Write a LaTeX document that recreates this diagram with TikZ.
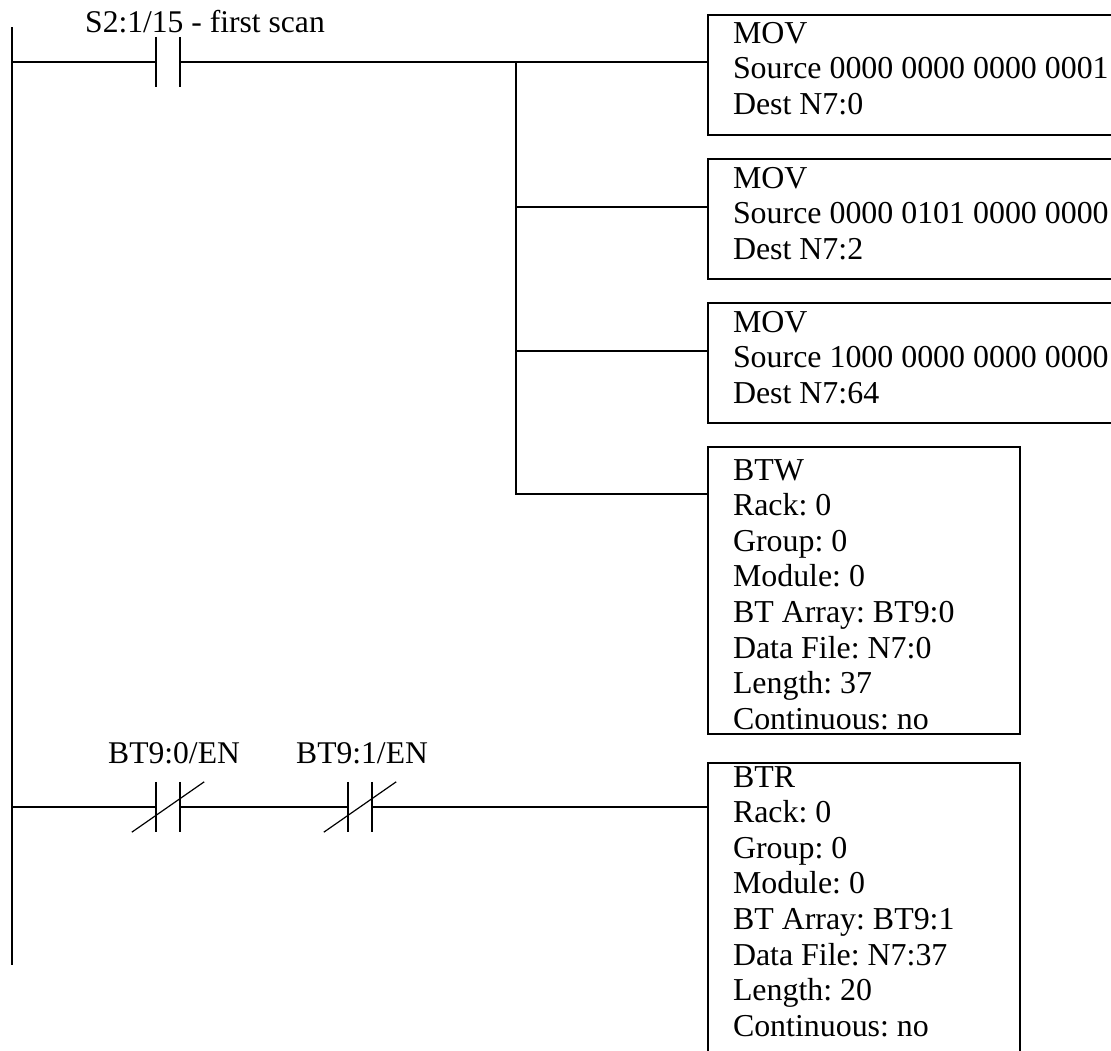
\documentclass[tikz,border=0pt]{standalone}
\usepackage{fontspec}
\setmainfont{Liberation Serif}
\usepackage{xcolor}
\usetikzlibrary{positioning}
\tikzset{
  wire/.style={draw=black, line width=2.2pt},
  slash/.style={draw=black, line width=1.2pt},
  contact/.style={rectangle, minimum width=24pt, minimum height=50pt, inner sep=0pt},
  tag/.style={anchor=base west, inner sep=0pt, font=\fontsize{31.6}{35.6}\selectfont\frenchspacing},
  instr/.style={rectangle, draw=black, line width=2.2pt, fill=white, anchor=north west, inner ysep=0pt,
                inner xsep=25pt, outer sep=0pt, align=flush left,
                font=\fontsize{31.9}{35.6}\selectfont\frenchspacing},
  movbox/.style={instr, text width=400pt, text height=29pt, text depth=91pt},
  btbox/.style={instr, text width=262pt}
}
\begin{document}
\begin{tikzpicture}[x=1pt, y=-1pt]
\useasboundingbox[fill=white] (0,0) rectangle (1111,1050);

\coordinate (top) at (12,27);
\coordinate (bot) at (12,965);
\draw[wire] (top) -- (bot);

\node[contact] (c1) at (168,62) {};
\node[contact] (c2) at (168,807) {};
\node[contact] (c3) at (360,807) {};
\draw[wire] (c1.north west) -- (c1.south west);
\draw[wire] (c1.north east) -- (c1.south east);
\draw[wire] (c2.north west) -- (c2.south west);
\draw[wire] (c2.north east) -- (c2.south east);
\draw[wire] (c3.north west) -- (c3.south west);
\draw[wire] (c3.north east) -- (c3.south east);
\draw[slash] ([xshift=-24pt]c2.south west) -- ([xshift=24pt]c2.north east);
\draw[slash] ([xshift=-24pt]c3.south west) -- ([xshift=24pt]c3.north east);

\node[tag] (t1) at (85,32) {S2:1/15 - first scan};
\node[tag] (t2) at (108,763) {BT9:0/EN};
\node[tag] (t3) at (296,763) {BT9:1/EN};

\node[movbox, text height=28pt, text depth=92pt] (m1) at (708,15) {MOV\\Source 0000 0000 0000 0001\\Dest N7:0};
\node[movbox, below right=24pt and 0pt of m1.south west] (m2) {MOV\\Source 0000 0101 0000 0000\\Dest N7:2};
\node[movbox, below right=24pt and 0pt of m2.south west] (m3) {MOV\\Source 1000 0000 0000 0000\\Dest N7:64};
\node[btbox, text height=33pt, text depth=254pt, below right=24pt and 0pt of m3.south west] (w1)
  {BTW\\Rack: 0\\Group: 0\\Module: 0\\BT Array: BT9:0\\Data File: N7:0\\Length: 37\\Continuous: no};
\node[btbox, text height=24pt, text depth=330pt, below right=29pt and 0pt of w1.south west] (r1)
  {BTR\\Rack: 0\\Group: 0\\Module: 0\\BT Array: BT9:1\\Data File: N7:37\\Length: 20\\Continuous: no};

\coordinate (j1) at (516,62);
\coordinate (j2) at (516,207);
\coordinate (j3) at (516,351);
\coordinate (j4) at (516,494);

\draw[wire] (c1.west -| top) -- (c1.west);
\draw[wire] (c1.east) -- (c1.east -| m1.west);
\draw[wire] (j1) -- (j4) -- (j4 -| w1.west);
\draw[wire] (j2) -- (j2 -| m2.west);
\draw[wire] (j3) -- (j3 -| m3.west);
\draw[wire] (c2.west -| top) -- (c2.west);
\draw[wire] (c2.east) -- (c3.west);
\draw[wire] (c3.east) -- (c3.east -| r1.west);
\end{tikzpicture}
\end{document}
